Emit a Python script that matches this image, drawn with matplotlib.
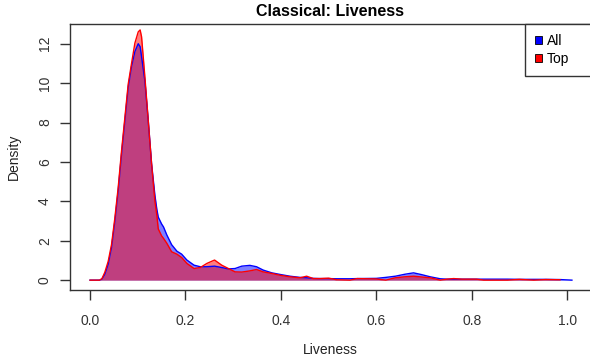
import matplotlib
matplotlib.use("Agg")
import matplotlib.pyplot as plt
from matplotlib.patches import Patch

plt.rcParams.update({
    "font.family": ["Liberation Sans", "DejaVu Sans"],
    "font.size": 10,
})

# densidade estimada "All"
all_x = [0.000, 0.020, 0.025, 0.031, 0.038, 0.045, 0.052, 0.059, 0.066, 0.073,
         0.080, 0.087, 0.094, 0.101, 0.105, 0.108, 0.115, 0.122, 0.129, 0.136,
         0.140, 0.143, 0.150, 0.154, 0.161, 0.171, 0.182, 0.192, 0.203, 0.218,
         0.231, 0.245, 0.261, 0.276, 0.290, 0.304, 0.318, 0.335, 0.349, 0.363,
         0.381, 0.398, 0.419, 0.440, 0.454, 0.468, 0.482, 0.500, 0.517, 0.545,
         0.560, 0.600, 0.620, 0.640, 0.660, 0.678, 0.695, 0.713, 0.734, 0.748,
         0.762, 0.780, 0.810, 0.825, 0.850, 0.875, 0.900, 0.930, 0.955, 0.985,
         1.010]
all_y = [0.00, 0.00, 0.05, 0.30, 0.80, 1.65, 3.00, 4.55, 6.40, 8.10,
         9.80, 10.85, 11.60, 12.00, 11.85, 11.35, 10.10, 8.10, 5.90, 4.30,
         3.60, 3.20, 2.85, 2.70, 2.29, 1.80, 1.47, 1.32, 1.02, 0.76,
         0.68, 0.68, 0.71, 0.64, 0.57, 0.59, 0.71, 0.75, 0.68, 0.51,
         0.37, 0.29, 0.20, 0.14, 0.12, 0.09, 0.08, 0.08, 0.07, 0.07,
         0.08, 0.09, 0.14, 0.20, 0.30, 0.37, 0.28, 0.17, 0.07, 0.05,
         0.05, 0.05, 0.05, 0.05, 0.05, 0.05, 0.04, 0.04, 0.04, 0.03,
         0.00]

# densidade estimada "Top"
top_x = all_x[:-1]
top_y = [0.00, 0.00, 0.08, 0.40, 0.95, 1.80, 3.15, 4.70, 6.55, 8.25,
         9.95, 11.00, 12.03, 12.60, 12.70, 12.35, 10.30, 8.10, 5.90, 4.00,
         3.30, 2.60, 2.25, 2.12, 1.87, 1.44, 1.32, 1.15, 0.85, 0.59,
         0.64, 0.85, 1.02, 0.76, 0.59, 0.42, 0.41, 0.47, 0.54, 0.42,
         0.34, 0.25, 0.17, 0.12, 0.20, 0.08, 0.08, 0.10, 0.02, 0.00,
         0.08, 0.06, 0.00, 0.12, 0.17, 0.20, 0.16, 0.12, 0.00, 0.05,
         0.08, 0.05, 0.05, 0.00, 0.00, 0.00, 0.04, 0.00, 0.03, 0.02]

x_ticks = [0.0, 0.2, 0.4, 0.6, 0.8, 1.0]
y_ticks = [0, 2, 4, 6, 8, 10, 12]

fig = plt.figure(figsize=(5.9, 3.6), dpi=100)
ax = fig.add_axes([70 / 590, 70 / 360, 521 / 590, 266 / 360])

ax.fill_between(all_x, all_y, 0, color=(0, 0, 1, 0.5), linewidth=0)
ax.plot(all_x, all_y, color="blue", linewidth=1)
ax.fill_between(top_x, top_y, 0, color=(1, 0, 0, 0.5), linewidth=0)
ax.plot(top_x, top_y, color="red", linewidth=1)

ax.set_xlim(-0.042, 1.05)
ax.set_ylim(-0.5, 13.0)
ax.set_xticks(x_ticks, [f"{v:.1f}" for v in x_ticks])
ax.set_yticks(y_ticks, [str(v) for v in y_ticks])
for lab in ax.get_yticklabels():
    lab.set_rotation(90)
    lab.set_va("center")
ax.tick_params(direction="out", length=7, width=1, colors="#333333",
               labelcolor="#333333", labelsize=10)
ax.tick_params(axis="x", pad=10)
ax.tick_params(axis="y", pad=6)
for s in ax.spines.values():
    s.set_color("#333333")
    s.set_linewidth(1)

ax.set_title("Classical: Liveness", fontsize=11.5, fontweight="bold", pad=6)
ax.set_xlabel("Liveness", fontsize=10, color="#222222", labelpad=11)
ax.set_ylabel("Density", fontsize=10, color="#222222", labelpad=12)

handles = [Patch(facecolor="blue", edgecolor="black", linewidth=0.6),
           Patch(facecolor="red", edgecolor="black", linewidth=0.6)]
leg = ax.legend(handles, ["All", "Top"], loc="upper left",
                bbox_to_anchor=((525 - 70) / 521, 0.5, 0.3, 0.5), mode="expand",
                fancybox=False, framealpha=1, edgecolor="#333333", fontsize=10,
                handlelength=0.5, handleheight=0.5, handletextpad=0.4,
                borderaxespad=0, borderpad=0.7, labelspacing=0.3)
leg.get_frame().set_linewidth(1)

fig.savefig("out.png", dpi=100)
